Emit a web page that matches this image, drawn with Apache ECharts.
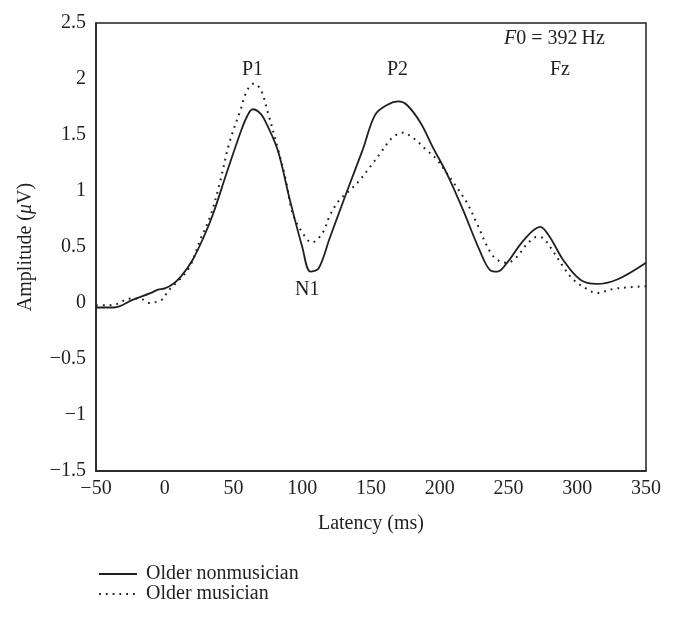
<!DOCTYPE html>
<html>
<head>
<meta charset="utf-8">
<script src="https://cdn.jsdelivr.net/npm/echarts@6/dist/echarts.min.js"></script>
<style>
html,body{margin:0;padding:0;background:#fff;}
#chart{width:674px;height:618px;}
</style>
</head>
<body>
<div id="chart"></div>
<script>
// Latency (ms) and amplitude (µV) readings
var nonmusicianX = [-50,-37,-23,-10,-5,0,6,12,20,28,35,45,55,60,64,68,72,82,91,100,106,112,120,132,144,153,162,170,176,186,195,205,217,229,237,242,249,261,273,280,290,302,314,329,350];
var nonmusicianY = [-0.04,-0.04,0.03,0.09,0.12,0.13,0.17,0.24,0.38,0.58,0.79,1.16,1.52,1.67,1.73,1.71,1.65,1.37,0.92,0.50,0.28,0.31,0.58,0.98,1.37,1.68,1.77,1.80,1.77,1.61,1.39,1.16,0.83,0.47,0.29,0.28,0.36,0.56,0.68,0.59,0.38,0.21,0.17,0.21,0.36];

var musicianX = [-50,-42,-35,-25,-18,-11,-6,-1,2,5,10,18,26,33,40,47,55,60,65,70,75,82,88,93,100,107,115,120,127,135,142,149,157,165,173,181,190,198,205,212,220,227,237,244,249,256,263,271,275,282,290,297,307,314,326,338,350];
var musicianY = [-0.02,-0.02,-0.01,0.04,0.04,0.0,0.01,0.04,0.10,0.14,0.20,0.32,0.57,0.77,1.07,1.43,1.72,1.90,1.96,1.90,1.70,1.39,1.10,0.80,0.63,0.54,0.63,0.78,0.92,1.01,1.10,1.21,1.34,1.47,1.52,1.47,1.37,1.28,1.16,1.04,0.89,0.71,0.45,0.37,0.36,0.41,0.52,0.59,0.58,0.47,0.32,0.21,0.125,0.09,0.125,0.14,0.15];

var seriesNames = ['Older nonmusician', 'Older musician'];
var xTicks = {min: -50, max: 350, interval: 50};
var yTicks = {min: -1.5, max: 2.5, interval: 0.5};

function pairs(xs, ys){ return xs.map(function(x,i){ return [x, ys[i]]; }); }

var FONT = 'Liberation Serif';
var FS = 20;
var INK = '#231f20';
var GFONT = FS + 'px "Liberation Serif"';

var chart = echarts.init(document.getElementById('chart'), null, {renderer:'canvas'});
chart.setOption({
  backgroundColor: '#fff',
  animation: false,
  grid: {left: 96, right: 28, top: 23, bottom: 147, show: true, borderColor: INK, borderWidth: 1.5, backgroundColor: 'transparent'},
  xAxis: {
    type: 'value', min: xTicks.min, max: xTicks.max, interval: xTicks.interval,
    name: 'Latency (ms)', nameLocation: 'middle', nameGap: 43,
    nameTextStyle: {fontFamily: FONT, fontSize: FS, color: INK},
    axisLine: {show: true, onZero: false, lineStyle: {color: INK, width: 1.5}},
    axisTick: {show: false},
    splitLine: {show: false},
    axisLabel: {fontFamily: FONT, fontSize: FS, color: INK, margin: 8,
      formatter: function(v){ return String(v).replace('-', '\u2212'); }}
  },
  yAxis: {
    type: 'value', min: yTicks.min, max: yTicks.max, interval: yTicks.interval,
    name: 'Amplitude ({i|\u03bc}V)', nameLocation: 'middle', nameGap: 60,
    nameTextStyle: {fontFamily: FONT, fontSize: FS, color: INK,
      rich: {i: {fontFamily: FONT, fontSize: FS, color: INK, fontStyle: 'italic'}}},
    axisLine: {show: true, onZero: false, lineStyle: {color: INK, width: 1.5}},
    axisTick: {show: false},
    splitLine: {show: false},
    axisLabel: {fontFamily: FONT, fontSize: FS, color: INK, margin: 10,
      formatter: function(v){ return String(v).replace('-', '\u2212'); }}
  },
  legend: {
    orient: 'vertical', left: 93, top: 559, itemWidth: 38, itemHeight: 14, itemGap: 0,
    itemStyle: {opacity: 0, borderWidth: 0},
    textStyle: {fontFamily: FONT, fontSize: FS, color: INK, padding: [0,0,0,4]},
    data: seriesNames
  },
  series: [
    {
      name: seriesNames[0], type: 'line', data: pairs(nonmusicianX, nonmusicianY),
      smooth: 0.35, symbol: 'none', showSymbol: false,
      lineStyle: {color: INK, width: 1.8},
      itemStyle: {color: INK}
    },
    {
      name: seriesNames[1], type: 'line', data: pairs(musicianX, musicianY),
      smooth: 0.35, symbol: 'none', showSymbol: false,
      lineStyle: {color: INK, width: 2, type: [1.8, 5]},
      itemStyle: {color: INK}
    }
  ],
  graphic: [
    {type: 'text', left: 242, top: 60, style: {text: 'P1', font: GFONT, fill: INK}},
    {type: 'text', left: 387, top: 60, style: {text: 'P2', font: GFONT, fill: INK}},
    {type: 'text', left: 550, top: 60, style: {text: 'Fz', font: GFONT, fill: INK}},
    {type: 'text', left: 295, top: 280, style: {text: 'N1', font: GFONT, fill: INK}},
    {type: 'text', left: 504, top: 29, style: {
      text: '{i|F}0 = 392\u2009Hz', font: GFONT, fill: INK,
      rich: {i: {fontFamily: FONT, fontSize: FS, fontStyle: 'italic', color: INK}}
    }}
  ]
});
</script>
</body>
</html>
